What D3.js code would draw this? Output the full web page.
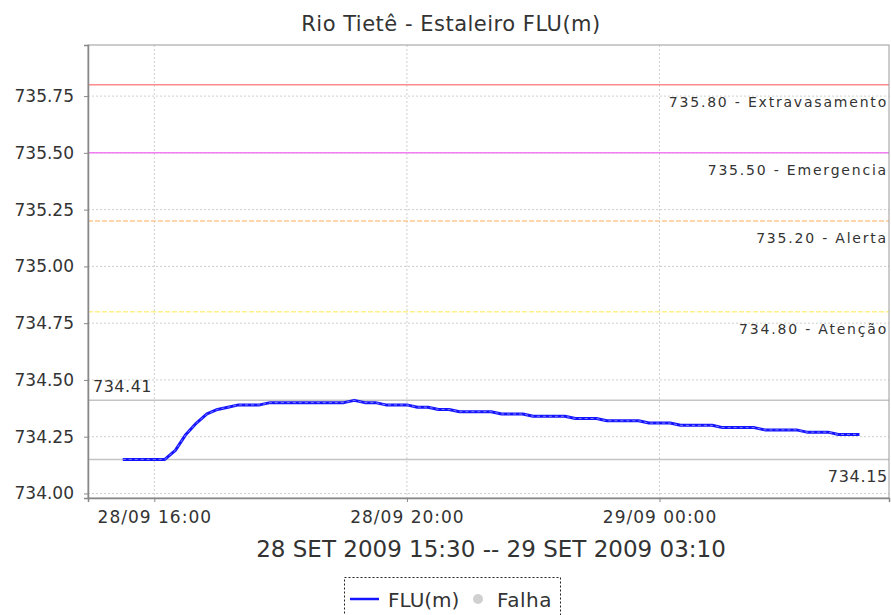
<!DOCTYPE html>
<html><head><meta charset="utf-8">
<script src="https://cdn.jsdelivr.net/npm/d3@7"></script>
<style>
body{margin:0;background:#fff;}
svg{display:block;}
text{font-family:"DejaVu Sans",sans-serif;fill:#333;}
</style></head><body>
<svg id="c" width="891" height="615"></svg>
<script>
const title = "Rio Tietê - Estaleiro FLU(m)";
const rangeLabel = "28 SET 2009 15:30 -- 29 SET 2009 03:10";
const times = ["2009-09-28 15:30","2009-09-28 15:40","2009-09-28 15:50","2009-09-28 16:00","2009-09-28 16:10","2009-09-28 16:20","2009-09-28 16:30","2009-09-28 16:40","2009-09-28 16:50","2009-09-28 17:00","2009-09-28 17:10","2009-09-28 17:20","2009-09-28 17:30","2009-09-28 17:40","2009-09-28 17:50","2009-09-28 18:00","2009-09-28 18:10","2009-09-28 18:20","2009-09-28 18:30","2009-09-28 18:40","2009-09-28 18:50","2009-09-28 19:00","2009-09-28 19:10","2009-09-28 19:20","2009-09-28 19:30","2009-09-28 19:40","2009-09-28 19:50","2009-09-28 20:00","2009-09-28 20:10","2009-09-28 20:20","2009-09-28 20:30","2009-09-28 20:40","2009-09-28 20:50","2009-09-28 21:00","2009-09-28 21:10","2009-09-28 21:20","2009-09-28 21:30","2009-09-28 21:40","2009-09-28 21:50","2009-09-28 22:00","2009-09-28 22:10","2009-09-28 22:20","2009-09-28 22:30","2009-09-28 22:40","2009-09-28 22:50","2009-09-28 23:00","2009-09-28 23:10","2009-09-28 23:20","2009-09-28 23:30","2009-09-28 23:40","2009-09-28 23:50","2009-09-29 00:00","2009-09-29 00:10","2009-09-29 00:20","2009-09-29 00:30","2009-09-29 00:40","2009-09-29 00:50","2009-09-29 01:00","2009-09-29 01:10","2009-09-29 01:20","2009-09-29 01:30","2009-09-29 01:40","2009-09-29 01:50","2009-09-29 02:00","2009-09-29 02:10","2009-09-29 02:20","2009-09-29 02:30","2009-09-29 02:40","2009-09-29 02:50","2009-09-29 03:00","2009-09-29 03:10"];
const flu = [734.15,734.15,734.15,734.15,734.15,734.19,734.26,734.31,734.35,734.37,734.38,734.39,734.39,734.39,734.40,734.40,734.40,734.40,734.40,734.40,734.40,734.40,734.41,734.40,734.40,734.39,734.39,734.39,734.38,734.38,734.37,734.37,734.36,734.36,734.36,734.36,734.35,734.35,734.35,734.34,734.34,734.34,734.34,734.33,734.33,734.33,734.32,734.32,734.32,734.32,734.31,734.31,734.31,734.30,734.30,734.30,734.30,734.29,734.29,734.29,734.29,734.28,734.28,734.28,734.28,734.27,734.27,734.27,734.26,734.26,734.26];
const thresholdValues = [735.80, 735.50, 735.20, 734.80];
const thresholdNames = ["Extravasamento", "Emergencia", "Alerta", "Atenção"];
const thresholdColors = ["#ff8c8c", "#f07ef0", "#ffc890", "#fff08a"];
const thresholdDash = [null, null, "5,2", "5,2"];
const maxValue = 734.41, minValue = 734.15;
const yTicks = [734.00, 734.25, 734.50, 734.75, 735.00, 735.25, 735.50, 735.75];
const xTickTimes = ["2009-09-28 16:00", "2009-09-28 20:00", "2009-09-29 00:00"];
const xDomainTimes = ["2009-09-28 14:57", "2009-09-29 03:38"];
const yDomain = [733.98, 735.975];
const legendNames = ["FLU(m)", "Falha"];

const parse = d3.timeParse("%Y-%m-%d %H:%M");
const data = times.map((t, i) => ({t: parse(t), v: flu[i]}));
const svg = d3.select("#c");
const L = 88, R = 889, T = 45, B = 498;
const x = d3.scaleTime().domain(xDomainTimes.map(parse)).range([L, R]);
const y = d3.scaleLinear().domain(yDomain).range([B, T]);

// title
svg.append("text").attr("x", 451).attr("y", 31).attr("text-anchor", "middle")
  .style("font-size", "21px").style("letter-spacing", "0.5px").text(title);

// grid
const g = svg.append("g");
g.selectAll(".hg").data(yTicks).join("line")
  .attr("x1", L).attr("x2", R).attr("y1", d => y(d)).attr("y2", d => y(d))
  .attr("stroke", "#cfcfcf").attr("stroke-dasharray", "2,2");
g.selectAll(".vg").data(xTickTimes.map(parse)).join("line")
  .attr("x1", d => x(d)).attr("x2", d => x(d)).attr("y1", T).attr("y2", B)
  .attr("stroke", "#cfcfcf").attr("stroke-dasharray", "2,2");

// threshold lines
thresholdValues.forEach((v, i) => {
  svg.append("line").attr("x1", L).attr("x2", R).attr("y1", y(v)).attr("y2", y(v))
    .attr("stroke", thresholdColors[i]).attr("stroke-width", 1.5)
    .attr("stroke-dasharray", thresholdDash[i]);
  svg.append("text").attr("x", 888).attr("y", y(v) + 22).attr("text-anchor", "end")
    .style("font-size", "14px").style("letter-spacing", "1.8px")
    .text(d3.format(".2f")(v) + " - " + thresholdNames[i]);
});

// max/min markers
[maxValue, minValue].forEach(v => {
  svg.append("line").attr("x1", L).attr("x2", R).attr("y1", y(v)).attr("y2", y(v))
    .attr("stroke", "#c4c4c4").attr("stroke-width", 1.5);
});
svg.append("text").attr("x", 93).attr("y", y(maxValue) - 8).style("font-size", "16px")
  .style("letter-spacing", "0.5px").text(d3.format(".2f")(maxValue));
svg.append("text").attr("x", 888).attr("y", y(minValue) + 23).attr("text-anchor", "end")
  .style("font-size", "16px").style("letter-spacing", "0.7px").text(d3.format(".2f")(minValue));

// line
const line = d3.line().x(d => x(d.t)).y(d => y(d.v));
svg.append("path").datum(data).attr("d", line).attr("fill", "none")
  .attr("stroke", "#1414ff").attr("stroke-width", 3).attr("stroke-linejoin", "round");
svg.append("path").datum(data).attr("d", line).attr("fill", "none")
  .attr("stroke", "#ffffff").attr("stroke-opacity", 0.45).attr("stroke-width", 1)
  .attr("stroke-dasharray", "3,3");

// plot outline
svg.append("rect").attr("x", L).attr("y", T).attr("width", R - L).attr("height", B - T)
  .attr("fill", "none").attr("stroke", "#9a9a9a").attr("stroke-width", 1);

// axes
const yAxis = d3.axisLeft(y).tickValues(yTicks).tickFormat(d3.format(".2f")).tickSize(4).tickPadding(10);
const ya = svg.append("g").attr("transform", `translate(${L},0)`).call(yAxis);
ya.select(".domain").attr("stroke", "#888").attr("stroke-width", 1.5);
ya.selectAll(".tick line").attr("stroke", "#888");
ya.selectAll("text").style("font-size", "17px").style("font-family", "DejaVu Sans").attr("fill", "#333");

const xAxis = d3.axisBottom(x).tickValues(xTickTimes.map(parse)).tickFormat(d3.timeFormat("%d/%m %H:%M")).tickSize(4).tickPadding(9);
const xa = svg.append("g").attr("transform", `translate(0,${B})`).call(xAxis);
xa.select(".domain").attr("stroke", "#888").attr("stroke-width", 1.5);
xa.selectAll(".tick line").attr("stroke", "#888");
xa.selectAll("text").style("font-size", "17px").style("letter-spacing", "1px").style("font-family", "DejaVu Sans").attr("fill", "#333");

svg.append("text").attr("x", 491).attr("y", 557).attr("text-anchor", "middle")
  .style("font-size", "23px").text(rangeLabel);

// legend
const lg = svg.append("g");
lg.append("rect").attr("x", 344.5).attr("y", 577.5).attr("width", 216).attr("height", 50)
  .attr("fill", "none").attr("stroke", "#222").attr("stroke-dasharray", "2,2");
lg.append("line").attr("x1", 350).attr("x2", 379).attr("y1", 599).attr("y2", 599)
  .attr("stroke", "#1414ff").attr("stroke-width", 2.5);
lg.append("text").attr("x", 388).attr("y", 607).style("font-size", "20px").text(legendNames[0]);
lg.append("circle").attr("cx", 478).attr("cy", 599).attr("r", 5).attr("fill", "#d0d0d0");
lg.append("text").attr("x", 497).attr("y", 607).style("font-size", "20px").style("letter-spacing", "0.5px").text(legendNames[1]);
</script></body></html>
